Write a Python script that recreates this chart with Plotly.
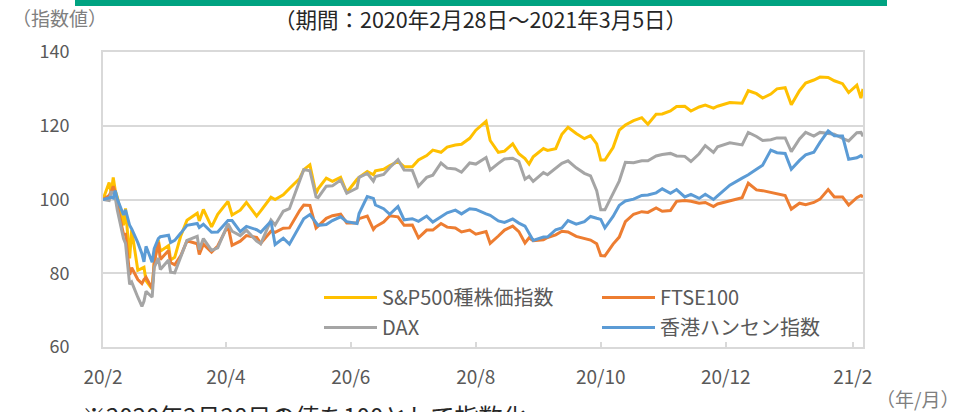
import plotly.graph_objects as go

dates = ["2020-02-28","2020-03-02","2020-03-03","2020-03-04","2020-03-05","2020-03-06","2020-03-09","2020-03-10","2020-03-12","2020-03-13",
"2020-03-16","2020-03-18","2020-03-19","2020-03-20","2020-03-23","2020-03-24","2020-03-26","2020-03-27","2020-03-31","2020-04-01",
"2020-04-03","2020-04-06","2020-04-09","2020-04-14","2020-04-15","2020-04-17","2020-04-21","2020-04-24","2020-04-29","2020-05-01",
"2020-05-05","2020-05-08","2020-05-13","2020-05-15","2020-05-20","2020-05-22","2020-05-26","2020-05-29","2020-06-03","2020-06-05",
"2020-06-08","2020-06-11","2020-06-12","2020-06-16","2020-06-19","2020-06-23","2020-06-26","2020-07-01","2020-07-02","2020-07-06",
"2020-07-09","2020-07-10","2020-07-14","2020-07-17","2020-07-21","2020-07-24","2020-07-28","2020-07-31","2020-08-04","2020-08-07",
"2020-08-11","2020-08-14","2020-08-18","2020-08-21","2020-08-25","2020-08-28","2020-09-02","2020-09-04","2020-09-08","2020-09-11",
"2020-09-15","2020-09-18","2020-09-21","2020-09-23","2020-09-25","2020-09-30","2020-10-02","2020-10-06","2020-10-09","2020-10-12",
"2020-10-16","2020-10-20","2020-10-23","2020-10-26","2020-10-28","2020-10-30","2020-11-03","2020-11-06","2020-11-09","2020-11-13",
"2020-11-17","2020-11-20","2020-11-24","2020-11-27","2020-12-01","2020-12-04","2020-12-08","2020-12-11","2020-12-15","2020-12-18",
"2020-12-22","2020-12-24","2020-12-30","2021-01-05","2021-01-08","2021-01-12","2021-01-15","2021-01-19","2021-01-22","2021-01-26",
"2021-01-29","2021-02-02","2021-02-05","2021-02-09","2021-02-12","2021-02-16","2021-02-19","2021-02-23","2021-02-26","2021-03-02",
"2021-03-04","2021-03-05"]

sp500 = [100,104.6,101.7,106.0,102.4,100.6,93.0,97.6,84.0,91.8,
80.8,81.2,81.6,78.0,75.7,82.8,89.0,86.0,87.5,83.6,
84.3,90.2,94.4,96.3,94.2,97.3,92.6,96.0,99.5,95.8,
97.1,99.2,95.5,96.9,100.6,100.0,101.3,103.0,105.7,108.1,
109.4,101.6,102.9,105.8,104.9,106.0,101.9,105.5,106.0,107.6,
106.7,107.8,108.2,109.2,110.3,108.9,108.9,110.7,111.9,113.4,
112.8,114.2,114.8,115.0,116.6,118.8,121.2,116.0,112.8,113.1,
115.1,112.4,111.1,109.6,111.6,113.8,113.3,113.8,117.7,119.6,
117.9,116.5,117.3,115.1,110.7,110.7,114.1,118.8,120.2,121.4,
122.2,120.4,123.1,123.2,124.0,125.2,125.3,124.0,125.1,125.6,
124.8,125.3,126.3,126.1,129.5,128.7,127.5,128.6,130.0,130.3,
125.7,129.5,131.6,132.4,133.2,133.1,132.2,131.4,129.0,131.0,
127.5,130.0]

ftse100 = [100,101.1,102.1,103.6,102.0,98.2,90.6,90.6,79.6,81.5,
78.3,77.2,78.3,78.9,75.9,82.8,88.4,83.7,86.2,82.9,
82.3,84.8,88.8,88.0,85.1,87.9,85.7,87.4,92.9,87.6,
88.7,90.2,89.7,88.1,91.4,91.1,92.2,92.3,97.0,98.5,
98.4,92.3,92.8,94.9,95.6,96.0,93.6,93.6,94.8,95.5,
91.9,92.6,93.9,95.6,95.3,93.0,93.1,89.6,91.7,91.7,
93.5,92.5,92.3,91.2,91.7,90.6,91.3,88.1,90.1,91.7,
92.8,91.3,88.2,89.6,88.8,89.1,89.7,90.4,91.4,91.2,
90.0,89.5,89.0,88.0,84.8,84.7,87.9,89.8,94.0,96.0,
96.7,96.5,97.7,96.8,97.0,99.5,99.7,99.5,99.0,99.2,
98.1,98.8,99.6,100.5,104.4,102.6,102.4,102.0,101.7,101.1,
97.4,99.0,98.6,99.2,100.1,102.7,100.7,100.7,98.5,100.5,
101.1,100.7]

dax = [100,99.7,102.0,102.0,100.5,97.1,89.4,88.1,77.0,77.6,
73.5,71.0,72.4,75.1,73.5,81.6,84.1,81.0,83.6,80.3,
80.1,84.7,88.9,90.0,86.4,89.4,86.2,86.9,93.4,91.4,
90.2,91.7,88.7,88.0,94.4,93.1,96.8,97.5,105.0,108.1,
107.8,100.7,100.5,103.6,103.7,105.3,101.7,103.1,106.0,107.1,
105.0,106.2,106.8,108.7,110.8,108.0,107.9,103.6,106.0,106.6,
109.9,108.5,108.3,107.4,109.9,109.6,111.4,108.0,109.8,111.0,
111.2,110.3,105.5,106.3,104.9,107.3,106.7,108.5,109.8,110.5,
108.6,107.1,106.4,102.4,97.2,97.2,101.7,105.0,110.1,110.0,
110.5,110.5,111.8,112.2,112.5,111.8,111.7,110.3,112.4,114.6,
112.8,114.3,115.4,114.8,118.2,117.1,116.0,116.2,116.7,116.7,
113.0,116.4,118.2,117.2,118.2,118.0,117.7,116.6,115.9,118.1,
118.2,117.1]

hangseng = [100,100.6,100.6,100.4,102.4,100.1,95.8,97.2,93.0,92.0,
88.3,85.3,83.1,87.3,83.0,86.7,89.4,89.9,90.3,88.3,
88.9,90.9,93.0,93.5,92.4,93.3,91.1,91.2,94.3,94.3,
91.3,92.7,91.8,91.1,94.1,87.8,89.5,87.9,93.1,94.8,
95.9,93.7,93.0,93.2,94.3,95.3,94.0,93.5,96.2,100.8,
100.3,98.5,97.5,96.0,98.1,94.5,94.8,94.1,95.5,93.9,
95.3,96.4,97.1,96.1,97.5,97.3,96.1,95.7,94.2,93.8,
94.7,93.6,92.8,90.9,88.9,89.8,89.8,91.8,92.3,94.3,
93.3,94.0,95.4,94.9,94.6,92.3,95.4,98.4,99.6,100.1,
101.1,101.2,101.8,102.9,101.7,102.7,100.7,101.4,100.3,101.4,
100.0,101.0,103.9,105.8,106.7,108.2,109.3,113.4,112.7,112.5,
108.2,110.6,112.1,112.8,115.5,118.6,117.3,117.2,110.9,111.3,
111.9,111.4]

series_names = ["S&P500種株価指数", "FTSE100", "DAX", "香港ハンセン指数"]
series_values = [sp500, ftse100, dax, hangseng]
series_colors = ["#FFC000", "#ED7D31", "#A5A5A5", "#5B9BD5"]
series_legend = ["legend", "legend2", "legend", "legend2"]

tick_dates = ["2020-02-28", "2020-04-28", "2020-06-28", "2020-08-28", "2020-10-28", "2020-12-28", "2021-02-28"]
tick_labels = ["20/2", "20/4", "20/6", "20/8", "20/10", "20/12", "21/2"]
y_ticks = [60, 80, 100, 120, 140]

FONT = "Noto Sans CJK JP"
GRAY_TXT = "#595959"

fig = go.Figure()
for name, vals, col, lg in zip(series_names, series_values, series_colors, series_legend):
    fig.add_trace(go.Scatter(x=dates, y=vals, mode="lines", name=name,
                             line=dict(color=col, width=3), legend=lg, legendgroup=name))

W, H = 964, 412
L, R, T, B = 103, 101, 52, 65
pw, ph = W - L - R, H - T - B

def px_x(x):
    return (x - L) / pw

def px_y(y):
    return (H - B - y) / ph

legend_common = dict(xanchor="left", yanchor="top", bgcolor="rgba(0,0,0,0)",
                     font=dict(size=20, color=GRAY_TXT, family=FONT),
                     tracegroupgap=1, orientation="v", itemwidth=53)

fig.update_layout(
    width=W, height=H,
    margin=dict(l=L, r=R, t=T, b=B),
    paper_bgcolor="white", plot_bgcolor="white",
    font=dict(family=FONT, color=GRAY_TXT, size=17),
    showlegend=True,
    legend=dict(x=px_x(319), y=px_y(278), **legend_common),
    legend2=dict(x=px_x(597), y=px_y(278), **legend_common),
    xaxis=dict(type="date", range=["2020-02-28", "2021-03-05"],
               tickvals=tick_dates, ticktext=tick_labels,
               showgrid=False, showline=True, linecolor="#D9D9D9", linewidth=2, mirror=True,
               ticks="inside", ticklen=5, tickcolor="#D9D9D9", tickwidth=1.5,
               tickfont=dict(size=19, color=GRAY_TXT, family=FONT), ticklabelstandoff=12,
               automargin=False),
    yaxis=dict(range=[60, 140], tickvals=y_ticks,
               showgrid=True, gridcolor="#D9D9D9", gridwidth=1.5,
               showline=True, linecolor="#D9D9D9", linewidth=2, mirror=True,
               ticks="", zeroline=False,
               tickfont=dict(size=18, color=GRAY_TXT, family=FONT), ticklabelstandoff=28,
               automargin=False),
    shapes=[dict(type="rect", xref="paper", yref="paper",
                 x0=px_x(75), x1=px_x(887), y0=px_y(6), y1=px_y(-2),
                 fillcolor="#00A381", line=dict(width=0))],
    annotations=[
        dict(text="（期間：2020年2月28日～2021年3月5日）", xref="paper", yref="paper",
             x=px_x(480), y=px_y(19), xanchor="center", yanchor="middle", showarrow=False,
             font=dict(size=21.5, color="#262626", family=FONT)),
        dict(text="（指数値）", xref="paper", yref="paper",
             x=px_x(10), y=px_y(17), xanchor="left", yanchor="middle", showarrow=False,
             font=dict(size=19, color="#7F7F7F", family=FONT)),
        dict(text="（年/月）", xref="paper", yref="paper",
             x=px_x(961), y=px_y(399), xanchor="right", yanchor="middle", showarrow=False,
             font=dict(size=19, color="#7F7F7F", family=FONT)),
        dict(text="※2020年2月28日の値を100として指数化", xref="paper", yref="paper",
             x=px_x(80), y=px_y(396), xanchor="left", yanchor="top", showarrow=False,
             font=dict(size=24, color="#262626", family=FONT)),
    ],
)

fig.write_html("out.html", config={"displayModeBar": False},
               post_script="document.body.style.margin='0';")
